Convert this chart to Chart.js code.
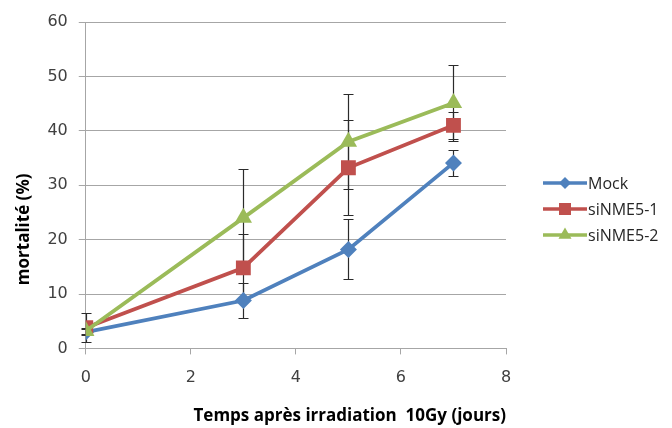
<!DOCTYPE html>
<html>
<head>
<meta charset="utf-8">
<script src="https://cdn.jsdelivr.net/npm/chart.js@4/dist/chart.umd.min.js"></script>
<style>
html,body{margin:0;padding:0;background:#fff;}
#wrap{width:672px;height:428px;}
</style>
</head>
<body>
<div id="wrap"><canvas id="c" width="672" height="428"></canvas></div>
<script>
const days = [0, 3, 5, 7];
const mockValues = [3.0, 8.8, 18.2, 34.1];
const mockErrors = [0.5, 3.2, 5.5, 2.4];
const si1Values = [3.8, 14.8, 33.2, 41.0];
const si1Errors = [2.7, 6.3, 8.7, 2.5];
const si2Values = [3.2, 24.0, 38.0, 45.1];
const si2Errors = [0.5, 9.0, 8.7, 7.0];
const seriesNames = ['Mock', 'siNME5-1', 'siNME5-2'];
const xTicks = [0, 2, 4, 6, 8];
const yTicks = [0, 10, 20, 30, 40, 50, 60];
const xTitle = 'Temps après irradiation  10Gy (jours)';
const yTitle = 'mortalité (%)';

const FONT = '"Open Sans", "DejaVu Sans", sans-serif';
const TICKFONT = '"DejaVu Sans", sans-serif';
const colors = ['#4F81BD', '#C0504D', '#9BBB59'];
const styles = [
  {pointStyle: 'rectRot', radius: 8.5, legendRadius: 6},
  {pointStyle: 'rect', radius: 10.5, legendRadius: 8.5},
  {pointStyle: 'triangle', radius: 10, legendRadius: 7.5}
];
const valueSets = [mockValues, si1Values, si2Values];
const errorSets = [mockErrors, si1Errors, si2Errors];

const datasets = valueSets.map((vals, i) => ({
  label: seriesNames[i],
  data: days.map((d, j) => ({x: d, y: vals[j]})),
  errors: errorSets[i],
  legendRadius: styles[i].legendRadius,
  borderColor: colors[i],
  backgroundColor: colors[i],
  borderWidth: 3.8,
  pointStyle: styles[i].pointStyle,
  pointRadius: styles[i].radius,
  pointBorderWidth: 0,
  pointBackgroundColor: colors[i],
  tension: 0,
  order: 3 - i
}));

const errorBarPlugin = {
  id: 'errorBars',
  beforeDatasetsDraw(chart) {
    const ctx = chart.ctx;
    const xs = chart.scales.x, ys = chart.scales.y;
    ctx.save();
    ctx.strokeStyle = '#2b2b2b';
    ctx.lineWidth = 1.2;
    chart.data.datasets.forEach(ds => {
      ds.data.forEach((p, j) => {
        const e = ds.errors[j];
        const px = Math.round(xs.getPixelForValue(p.x)) + 0.5;
        const top = Math.round(ys.getPixelForValue(p.y + e)) + 0.5;
        const bot = Math.round(ys.getPixelForValue(p.y - e)) + 0.5;
        ctx.beginPath();
        ctx.moveTo(px, top); ctx.lineTo(px, bot);
        ctx.moveTo(px - 5, top); ctx.lineTo(px + 5, top);
        ctx.moveTo(px - 5, bot); ctx.lineTo(px + 5, bot);
        ctx.stroke();
      });
    });
    ctx.restore();
  }
};

const legendPlugin = {
  id: 'sideLegend',
  afterDraw(chart) {
    const ctx = chart.ctx;
    ctx.save();
    const x0 = 543, x1 = 587, startY = 183, gap = 26;
    chart.data.datasets.forEach((ds, i) => {
      const y = startY + i * gap;
      ctx.strokeStyle = ds.borderColor;
      ctx.lineWidth = 3.5;
      ctx.beginPath(); ctx.moveTo(x0, y); ctx.lineTo(x1, y); ctx.stroke();
      ctx.fillStyle = ds.backgroundColor;
      Chart.helpers.drawPoint(ctx, {
        pointStyle: ds.pointStyle,
        radius: ds.legendRadius,
        rotation: 0,
        borderWidth: 0
      }, (x0 + x1) / 2, y);
      ctx.fillStyle = '#262626';
      ctx.font = '16px ' + FONT;
      ctx.textAlign = 'left';
      ctx.textBaseline = 'middle';
      ctx.fillText(ds.label, x1 + 1, y + 1);
    });
    ctx.restore();
  }
};

new Chart(document.getElementById('c'), {
  type: 'line',
  data: {datasets},
  options: {
    responsive: false,
    animation: false,
    devicePixelRatio: 1,
    layout: {padding: {left: 4, right: 166, top: 22, bottom: 2}},
    plugins: {legend: {display: false}, tooltip: {enabled: false}},
    scales: {
      x: {
        type: 'linear',
        min: 0, max: 8,
        afterBuildTicks(scale) { scale.ticks = xTicks.map(v => ({value: v})); },
        grid: {display: true, drawOnChartArea: false, drawTicks: true, tickLength: 6, color: '#a6a6a6', lineWidth: 1},
        border: {display: true, color: '#a6a6a6', width: 1},
        ticks: {color: '#404040', font: {family: TICKFONT, size: 16}, padding: 14, maxRotation: 0},
        title: {display: true, align: 'end', text: xTitle, color: '#000', font: {family: FONT, size: 17, weight: 'bold'}, padding: {top: 4, bottom: 0}}
      },
      y: {
        min: 0, max: 60,
        afterBuildTicks(scale) { scale.ticks = yTicks.map(v => ({value: v})); },
        grid: {color: '#a6a6a6', lineWidth: 1, drawTicks: true, tickLength: 7},
        border: {display: true, color: '#a6a6a6', width: 1},
        ticks: {color: '#404040', font: {family: TICKFONT, size: 16}, padding: 11},
        title: {display: true, text: yTitle + '\u00A0'.repeat(20), color: '#000', font: {family: FONT, size: 17, weight: 'bold'}, padding: {top: 10, bottom: 2}}
      }
    }
  },
  plugins: [errorBarPlugin, legendPlugin]
});
</script>
</body>
</html>
